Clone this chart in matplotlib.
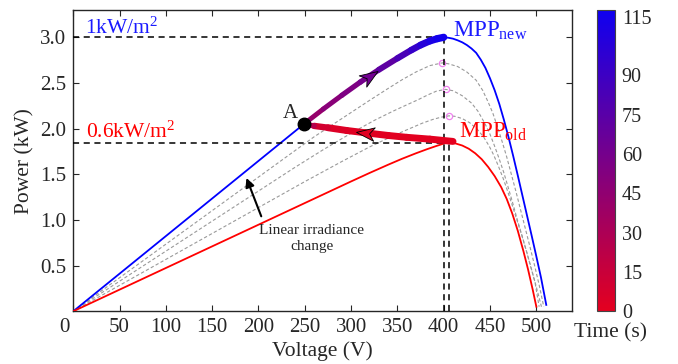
import numpy as np
import matplotlib
matplotlib.use('Agg')
import matplotlib.pyplot as plt
from matplotlib.collections import LineCollection
from matplotlib.colors import LinearSegmentedColormap, Normalize
from matplotlib.markers import MarkerStyle
from matplotlib.path import Path
from matplotlib.transforms import Affine2D, ScaledTranslation
from matplotlib.cm import ScalarMappable

plt.rcParams['font.family'] = ['Liberation Serif', 'DejaVu Serif']
plt.rcParams['mathtext.fontset'] = 'custom'
plt.rcParams['mathtext.rm'] = 'Liberation Serif'
plt.rcParams['mathtext.it'] = 'Liberation Serif:italic'
plt.rcParams['mathtext.bf'] = 'Liberation Serif:bold'

# ---------------- data ----------------
blue_v = [0, 249, 270, 290, 310, 320, 330, 350, 365, 375, 385, 393, 400, 405, 410, 415, 420,
          425, 430, 435, 440, 445, 450, 455, 460, 465, 470, 475, 480, 485, 490, 495, 500,
          505, 510.7]
blue_p = [0, 2.05, 2.215, 2.365, 2.51, 2.578, 2.645, 2.77, 2.86, 2.915, 2.96, 2.985, 3.0, 2.995,
          2.985, 2.967, 2.945, 2.915, 2.877, 2.83, 2.755, 2.665, 2.55, 2.42, 2.27, 2.095, 1.905,
          1.70, 1.485, 1.265, 1.045, 0.825, 0.60, 0.37, 0.07]

red_v = [0, 300, 320, 340, 355, 370, 382, 392, 399, 405, 412, 420, 427, 434, 441, 448, 455,
         462, 468, 474, 480, 486, 491, 496, 500]
red_p = [0, 1.422, 1.515, 1.605, 1.67, 1.73, 1.775, 1.81, 1.833, 1.85, 1.84, 1.815, 1.78, 1.73,
         1.665, 1.58, 1.48, 1.36, 1.23, 1.07, 0.88, 0.66, 0.46, 0.24, 0.05]

g90_v = [0, 230, 260, 290, 320, 340, 355, 370, 385, 398.5, 405, 415, 425, 435, 442, 448, 453,
         458, 463, 468, 473, 478, 483, 488, 493, 498, 503, 508]
g90_p = [0, 1.69, 1.91, 2.11, 2.31, 2.44, 2.535, 2.62, 2.69, 2.72, 2.71, 2.68, 2.62, 2.53, 2.42,
         2.29, 2.17, 2.02, 1.86, 1.69, 1.50, 1.31, 1.11, 0.91, 0.71, 0.505, 0.29, 0.05]
g80_v = [0, 240, 270, 300, 325, 345, 360, 372, 383, 392, 402, 410, 420, 430, 437, 444.5, 449.5,
         454.5, 459.5, 464.5, 469.5, 474.5, 479.5, 484.5, 489.5, 494.5, 499.5, 505.5]
g80_p = [0, 1.58, 1.77, 1.95, 2.09, 2.19, 2.26, 2.315, 2.37, 2.41, 2.43, 2.415, 2.36, 2.28, 2.19,
         2.055, 1.95, 1.82, 1.68, 1.53, 1.36, 1.185, 1.0, 0.83, 0.65, 0.465, 0.285, 0.05]
g70_v = [0, 250, 290, 320, 345, 362, 377, 388, 397, 405.6, 412, 420, 428, 436, 443, 449, 454,
         459, 464, 469, 474, 479, 484, 489, 494, 498.5, 503]
g70_p = [0, 1.42, 1.64, 1.80, 1.92, 1.995, 2.06, 2.10, 2.125, 2.14, 2.135, 2.11, 2.065, 1.995,
         1.91, 1.81, 1.71, 1.59, 1.46, 1.315, 1.16, 1.0, 0.84, 0.67, 0.49, 0.32, 0.05]

mid_mpp_v = [398.5, 402, 405.6]
mid_mpp_p = [2.72, 2.43, 2.14]

mpp_new_v, mpp_new_p = 400, 3.0
mpp_old_v, mpp_old_p = 406, 1.84
point_a_v, point_a_p = 249, 2.05

traj_v = [410, 385, 360, 340, 315, 295, 275, 260, 249,
          270, 290, 310, 320, 330, 350, 365, 375, 385, 393, 400]
traj_p = [1.86, 1.885, 1.905, 1.925, 1.955, 1.98, 2.01, 2.03, 2.05,
          2.215, 2.365, 2.51, 2.578, 2.645, 2.77, 2.86, 2.915, 2.96, 2.985, 3.0]
traj_t = [0, 0.5, 1, 1.5, 2, 3, 5, 14, 38,
          46, 52, 58, 62, 66, 78, 90, 98, 106, 111, 115]

x_ticks = [0, 50, 100, 150, 200, 250, 300, 350, 400, 450, 500]
y_ticks = [0.5, 1.0, 1.5, 2.0, 2.5, 3.0]
y_tick_labels = ['0.5', '1.0', '1.5', '2.0', '2.5', '3.0']
cb_ticks = [0, 15, 30, 45, 60, 75, 90, 115]
cb_labels = ['0', '15', '30', '45', '60', '75', '90', '115']

# ---------------- styles ----------------
traj_widths = [5, 5, 5, 5, 5, 5, 4.6, 3.8,
               3.5, 3.6, 3.8, 3.9, 4.0, 4.3, 4.6, 4.8, 5.0, 5.1, 5.2]
dark = '#262626'
cmap = LinearSegmentedColormap.from_list('rb', ['#e4001f', '#0f00f0'])
norm = Normalize(vmin=0, vmax=115)

fig = plt.figure(figsize=(6.78, 3.64), dpi=100)
ax = fig.add_axes([0.108, 0.1448, 0.735, 0.828])
cax = fig.add_axes([0.881, 0.1448, 0.0258, 0.828])

ax.set_xlim(0, 538)
ax.set_ylim(0, 3.30)

# gray intermediate curves
for gv, gp in [(g90_v, g90_p), (g80_v, g80_p), (g70_v, g70_p)]:
    ax.plot(gv, gp, color='#9a9a9a', lw=0.8, ls=(0, (3, 2)), zorder=2)
ax.plot(mid_mpp_v, mid_mpp_p, ls='none', marker='o', ms=4.5, mfc='none', mec='#ee82ee',
        mew=0.9, zorder=3)

ax.plot(blue_v, blue_p, color='#0000ff', lw=1.3, zorder=3)
ax.plot(red_v, red_p, color='#ff0000', lw=1.3, zorder=3)

# dashed MPP guide lines
dash = dict(color='black', lw=1.1, ls=(0, (4, 3)), zorder=4)
ax.plot([0, mpp_new_v], [mpp_new_p, mpp_new_p], **dash)
ax.plot([mpp_new_v, mpp_new_v], [0, mpp_new_p], **dash)
ax.plot([0, mpp_old_v], [mpp_old_p, mpp_old_p], **dash)
ax.plot([mpp_old_v, mpp_old_v], [0, mpp_old_p], **dash)

# trajectory coloured by time
pts = np.column_stack([traj_v, traj_p])
segs = np.stack([pts[:-1], pts[1:]], axis=1)
seg_t = (np.array(traj_t[:-1]) + np.array(traj_t[1:])) / 2
lc = LineCollection(segs, cmap=cmap, norm=norm, linewidths=traj_widths,
                    capstyle='round', joinstyle='round', zorder=5)
lc.set_array(seg_t)
ax.add_collection(lc)

# chevron arrowheads on the trajectory
chev = Path([(1, 0), (-1, 0.75), (-0.45, 0), (-1, -0.75), (1, 0)],
            [Path.MOVETO, Path.LINETO, Path.LINETO, Path.LINETO, Path.CLOSEPOLY])
for idx in [4, 12]:
    p0 = ax.transData.transform((traj_v[idx - 1], traj_p[idx - 1]))
    p1 = ax.transData.transform((traj_v[idx + 1], traj_p[idx + 1]))
    ang = np.degrees(np.arctan2(p1[1] - p0[1], p1[0] - p0[0]))
    ms = MarkerStyle(chev, transform=Affine2D().rotate_deg(ang))
    ax.plot([traj_v[idx]], [traj_p[idx]], marker=ms, ms=13, ls='none',
            mfc=cmap(norm(traj_t[idx])), mec='black', mew=0.6, zorder=6)

# point A
ax.plot([point_a_v], [point_a_p], 'o', color='black', ms=9, zorder=7)
ax.text(234.6, 2.17, 'A', fontsize=15, ha='center', va='center', color=dark, zorder=7)

# texts
ax.text(12.6, 3.04, '1kW/m$^2$', color='#1a1aff', fontsize=15.5, ha='left', va='baseline')
ax.text(13.8, 1.90, '0.6kW/m$^2$', color='#ff0000', fontsize=15.5, ha='left', va='baseline')
ax.text(409.7, 3.01, r'MPP$_{\mathrm{new}}$', color='#1a1aff', fontsize=16.5, ha='left', va='baseline')
ax.text(416.4, 1.90, r'MPP$_{\mathrm{old}}$', color='#ff0000', fontsize=16.5, ha='left', va='baseline')

ax.annotate('', xy=(187, 1.46), xytext=(203, 1.04),
            arrowprops=dict(arrowstyle='-|>', color='black', lw=1.5, mutation_scale=13,
                            shrinkA=0, shrinkB=0), zorder=6)
ax.text(257.5, 0.80, 'Linear irradiance\nchange', fontsize=11, ha='center', va='center',
        color=dark, linespacing=1.3)

# axes styling
ax.set_xticks(x_ticks)
ax.set_yticks(y_ticks)
ax.set_yticklabels(y_tick_labels)
ax.tick_params(direction='in', top=True, right=True, length=4, width=0.8,
               labelsize=15, colors=dark, pad=5)
for s in ax.spines.values():
    s.set_color(dark)
    s.set_linewidth(1.0)
ax.set_xlabel('Voltage (V)', fontsize=15.5, color=dark, labelpad=3)
ax.set_ylabel('Power (kW)', fontsize=15.5, color=dark, labelpad=4)
lab0 = ax.get_xticklabels()[0]
lab0.set_transform(lab0.get_transform() + ScaledTranslation(-0.09, 0, fig.dpi_scale_trans))

# colorbar
cb = fig.colorbar(ScalarMappable(norm=norm, cmap=cmap), cax=cax, ticks=cb_ticks)
cb.set_ticklabels(cb_labels)
cax.tick_params(length=0, labelsize=14.5, colors=dark, pad=5)
cb.outline.set_edgecolor('#444444')
cb.outline.set_linewidth(0.8)
cax.get_yticklabels()[-1].set_verticalalignment('top')
fig.text(610 / 678, 1 - 333 / 364, 'Time (s)', fontsize=15.5, ha='center', va='center', color=dark)

fig.savefig('out.png', dpi=100)
